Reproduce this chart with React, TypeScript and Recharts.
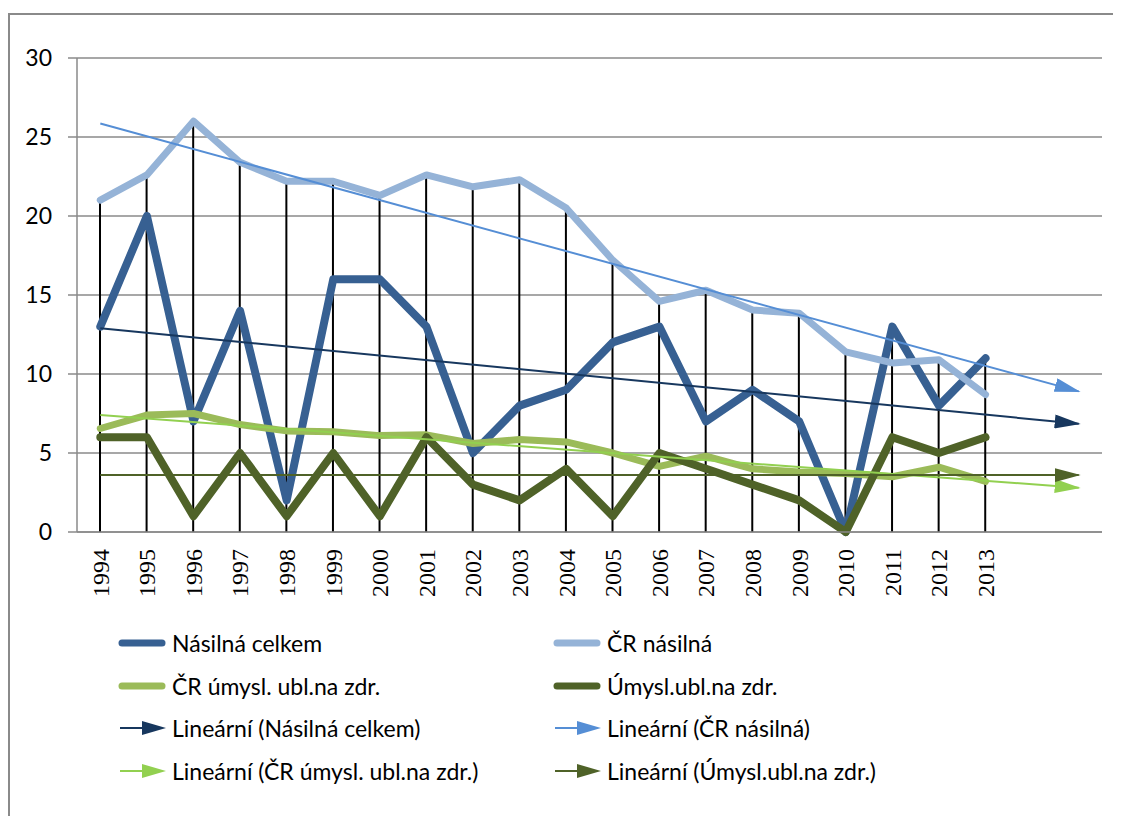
import React from 'react';
import { ComposedChart, Line, Bar, XAxis, YAxis, CartesianGrid } from 'recharts';

// categories: 20 years + 2 empty forecast slots for the trendlines
const years = ['1994', '1995', '1996', '1997', '1998', '1999', '2000', '2001', '2002', '2003',
    '2004', '2005', '2006', '2007', '2008', '2009', '2010', '2011', '2012', '2013'];
const forecastSlots = ['', ''];

const nasilnaCelkem = [13, 20, 7, 14, 2, 16, 16, 13, 5, 8, 9, 12, 13, 7, 9, 7, 0, 13, 8, 11];
const crNasilna = [21, 22.6, 26, 23.4, 22.2, 22.2, 21.3, 22.6, 21.85, 22.3, 20.5, 17.2, 14.6, 15.3,
    14.05, 13.85, 11.4, 10.7, 10.9, 8.7];
const crUmysl = [6.55, 7.4, 7.5, 6.8, 6.4, 6.35, 6.1, 6.15, 5.6, 5.85, 5.7, 5.0, 4.15, 4.8, 4.0,
    3.8, 3.7, 3.5, 4.1, 3.2];
const umysl = [6, 6, 1, 5, 1, 5, 1, 6, 3, 2, 4, 1, 5, 4, 3, 2, 0, 6, 5, 6];

// linear trendlines: value at first category and at the last forecast slot
const trendNasilnaCelkem = [12.9, 6.85];
const trendCrNasilna = [25.85, 8.9];
const trendCrUmysl = [7.4, 2.8];
const trendUmysl = [3.6, 3.6];

const yTicks = [0, 5, 10, 15, 20, 25, 30];

const categories = [...years, ...forecastSlots];
const last = categories.length - 1;
const ends = (t: number[], i: number) => (i === 0 ? t[0] : i === last ? t[1] : null);

const data = categories.map((year, i) => ({
    year,
    nc: nasilnaCelkem[i] ?? null,
    crn: crNasilna[i] ?? null,
    cru: crUmysl[i] ?? null,
    um: umysl[i] ?? null,
    drop: i < years.length ? Math.max(nasilnaCelkem[i], crNasilna[i], crUmysl[i], umysl[i]) : null,
    tNc: ends(trendNasilnaCelkem, i),
    tCrn: ends(trendCrNasilna, i),
    tCru: ends(trendCrUmysl, i),
    tUm: ends(trendUmysl, i),
}));

const colors = {
    nc: '#376092',
    crn: '#95B3D7',
    cru: '#9BBB59',
    um: '#4F6228',
    tNc: '#17375E',
    tCrn: '#558ED5',
    tCru: '#92D050',
    tUm: '#4F6228',
};

const sans = 'Lato, "Open Sans", sans-serif';

const YearTick = ({ x, y, payload }: any) => {
    const yy = y + 17;
    return (
        <text
            x={x}
            y={yy}
            transform={`rotate(-90 ${x} ${yy})`}
            textAnchor="end"
            dy="0.35em"
            fontFamily='"Liberation Serif", serif'
            fontSize={24}
            fill="#000"
        >
            {payload.value}
        </text>
    );
};

const legendItems = [
    { name: 'Násilná celkem', color: colors.nc, trend: false },
    { name: 'ČR násilná', color: colors.crn, trend: false },
    { name: 'ČR úmysl. ubl.na zdr.', color: colors.cru, trend: false },
    { name: 'Úmysl.ubl.na zdr.', color: colors.um, trend: false },
    { name: 'Lineární (Násilná celkem)', color: colors.tNc, trend: true },
    { name: 'Lineární (ČR násilná)', color: colors.tCrn, trend: true },
    { name: 'Lineární (ČR úmysl. ubl.na zdr.)', color: colors.tCru, trend: true },
    { name: 'Lineární (Úmysl.ubl.na zdr.)', color: colors.tUm, trend: true },
];

function LegendIcon({ color, trend }: { color: string; trend: boolean }) {
    return (
        <svg width={48} height={20} style={{ flex: 'none' }}>
            {trend ? (
                <>
                    <line x1={2} y1={10} x2={26} y2={10} stroke={color} strokeWidth={2} />
                    <path d="M24,3 L48,10 L24,17 Z" fill={color} />
                </>
            ) : (
                <line x1={4} y1={10} x2={44} y2={10} stroke={color} strokeWidth={7} strokeLinecap="round" />
            )}
        </svg>
    );
}

function Arrow({ id, color }: { id: string; color: string }) {
    return (
        <marker id={id} markerUnits="userSpaceOnUse" markerWidth={26} markerHeight={14}
            viewBox="0 0 26 14" refX={24} refY={7} orient="auto">
            <path d="M0,0 L26,7 L0,14 Z" fill={color} />
        </marker>
    );
}

export default function App() {
    return (
        <div style={{
            marginTop: 5, width: 1130, height: 820, position: 'relative',
            borderTop: '2px solid #8a8a8a', borderLeft: '2px solid #8a8a8a', background: '#fff',
        }}>
            <style>{'body{overflow:hidden}'}</style>
            <ComposedChart width={1108} height={600} data={data}
                margin={{ top: 43, right: 16, left: 0, bottom: 13 }}>
                <defs>
                    <Arrow id="arrNc" color={colors.tNc} />
                    <Arrow id="arrCrn" color={colors.tCrn} />
                    <Arrow id="arrCru" color={colors.tCru} />
                    <Arrow id="arrUm" color={colors.tUm} />
                </defs>
                <CartesianGrid vertical={false} stroke="#8a8a8a" strokeWidth={1.5} />
                <XAxis dataKey="year" interval={0} height={70} tickSize={0} tickMargin={0}
                    tick={<YearTick />} axisLine={{ stroke: '#8a8a8a', strokeWidth: 1.5 }} tickLine={false} />
                <YAxis domain={[0, 30]} ticks={yTicks} width={67} tickSize={9} tickMargin={16}
                    axisLine={{ stroke: '#8a8a8a', strokeWidth: 1.5 }}
                    tickLine={{ stroke: '#8a8a8a', strokeWidth: 1.5 }}
                    tick={{ fontFamily: sans, fontSize: 23, fill: '#000' }} />
                <Line dataKey="nc" stroke={colors.nc} strokeWidth={8} dot={false} activeDot={false}
                    strokeLinejoin="round" strokeLinecap="round" isAnimationActive={false} />
                <Line dataKey="crn" stroke={colors.crn} strokeWidth={7} dot={false} activeDot={false}
                    strokeLinejoin="round" strokeLinecap="round" isAnimationActive={false} />
                <Line dataKey="cru" stroke={colors.cru} strokeWidth={7} dot={false} activeDot={false}
                    strokeLinejoin="round" strokeLinecap="round" isAnimationActive={false} />
                <Line dataKey="um" stroke={colors.um} strokeWidth={8} dot={false} activeDot={false}
                    strokeLinejoin="round" strokeLinecap="round" isAnimationActive={false} />
                <Bar dataKey="drop" barSize={2} fill="#000" isAnimationActive={false} />
                <Line dataKey="tNc" stroke={colors.tNc} strokeWidth={2} dot={false} activeDot={false}
                    connectNulls markerEnd="url(#arrNc)" isAnimationActive={false} />
                <Line dataKey="tCrn" stroke={colors.tCrn} strokeWidth={2} dot={false} activeDot={false}
                    connectNulls markerEnd="url(#arrCrn)" isAnimationActive={false} />
                <Line dataKey="tCru" stroke={colors.tCru} strokeWidth={2} dot={false} activeDot={false}
                    connectNulls markerEnd="url(#arrCru)" isAnimationActive={false} />
                <Line dataKey="tUm" stroke={colors.tUm} strokeWidth={2} dot={false} activeDot={false}
                    connectNulls markerEnd="url(#arrUm)" isAnimationActive={false} />
            </ComposedChart>
            <div style={{
                position: 'absolute', left: 108, top: 607, display: 'grid',
                gridTemplateColumns: '435px 435px', gridAutoRows: '42.5px',
                fontFamily: sans, fontSize: 23, color: '#000',
            }}>
                {legendItems.map((it) => (
                    <div key={it.name} style={{ display: 'flex', alignItems: 'center', whiteSpace: 'nowrap' }}>
                        <LegendIcon color={it.color} trend={it.trend} />
                        <span style={{ marginLeft: 6 }}>{it.name}</span>
                    </div>
                ))}
            </div>
        </div>
    );
}
